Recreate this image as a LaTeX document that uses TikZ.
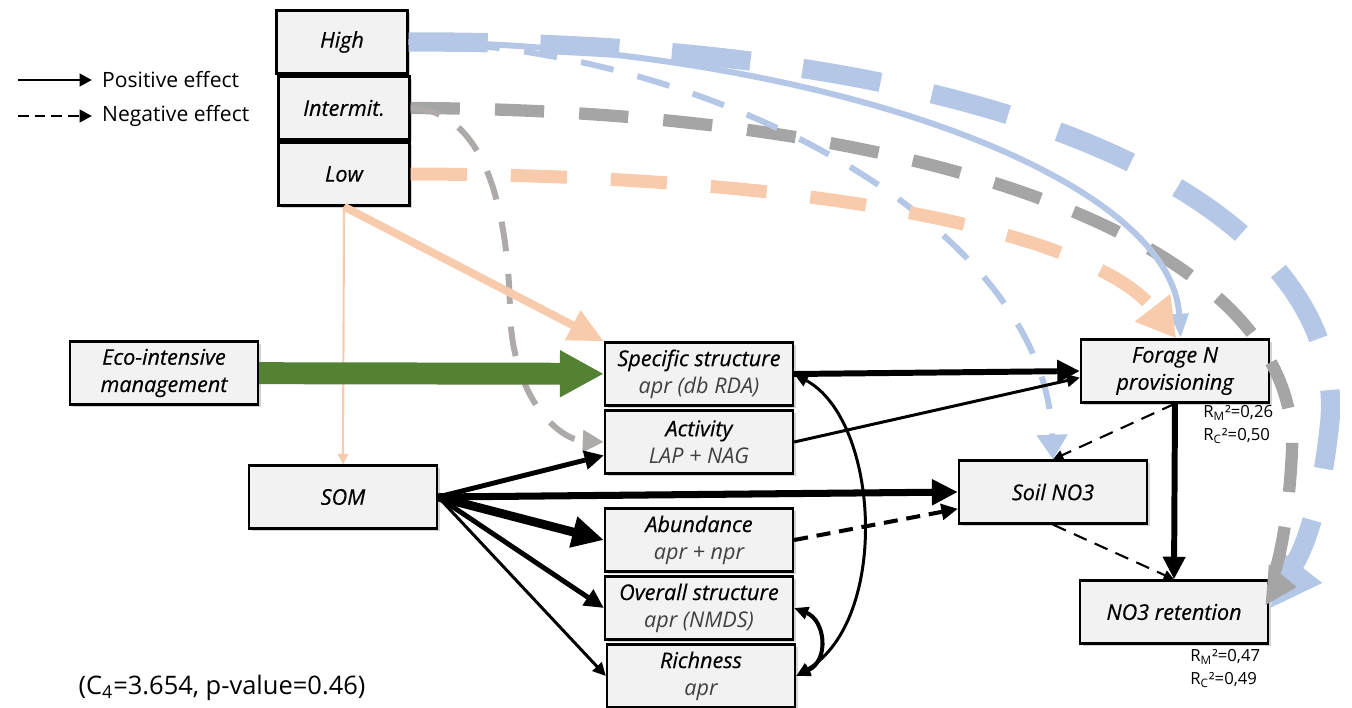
\documentclass[tikz,border=0pt]{standalone}
\usepackage{fontspec}
\setmainfont{Open Sans}
\newfontfamily\semifont{Open Sans}[FakeBold=0.4, ItalicFeatures={FakeBold=0.4}]
\usetikzlibrary{positioning,shapes,arrows.meta,shadows}

\definecolor{boxfill}{HTML}{F2F2F2}
\definecolor{subtxt}{HTML}{404040}
\definecolor{ecogreen}{HTML}{548235}
\definecolor{lowor}{HTML}{F8CBAD}
\definecolor{highbl}{HTML}{B4C7E7}
\definecolor{intgr}{HTML}{A5A5A5}
\definecolor{intgrb}{HTML}{AEAAAA}

\tikzset{
  box/.style={draw, line width=1.3pt, fill=boxfill, minimum width=3.76cm, minimum height=1.26cm, align=center, inner sep=2pt,
    font=\fontsize{12.3}{15.5}\selectfont\semifont\itshape, drop shadow={shadow xshift=1.5pt, shadow yshift=-1.5pt, opacity=0.35}},
  lvlbox/.style={box, minimum width=2.62cm},
  posarr/.style={line width=#1, -{Triangle[length=2pt 3.2, width=2pt 3]}},
  negarr/.style={posarr=#1, dash pattern=on 8pt off 5pt},
  stat/.style={font=\fontsize{9.5}{13}\selectfont, align=left, anchor=north west, inner sep=0pt}
}

\newcommand{\subl}[1]{{\normalfont\fontsize{12.3}{15.5}\selectfont\itshape\color{subtxt}#1}}

\begin{document}
\begin{tikzpicture}[x=0.02cm, y=-0.02cm]
\useasboundingbox (0,0) rectangle (1352,707);

\node[lvlbox] (high) at (342,42) {High};
\node[lvlbox] (intermit) at (344,108) {Intermit.};
\node[lvlbox] (low) at (344,174) {Low};
\node[box] (eco) at (164,373) {Eco-intensive\\management};
\node[box] (som) at (343,497) {SOM};
\node[box] (spec) at (699,374) {Specific structure\\\subl{apr (db RDA)}};
\node[box] (activ) at (699,442) {Activity\\\subl{LAP + NAG}};
\node[box] (abund) at (699,540) {Abundance\\\subl{apr + npr}};
\node[box] (overall) at (699,608) {Overall structure\\\subl{apr (NMDS)}};
\node[box] (rich) at (701,676) {Richness\\\subl{apr}};
\node[box] (forage) at (1175,371) {Forage N\\provisioning};
\node[box] (soilno) at (1053,492) {Soil NO3};
\node[box] (ret) at (1174,612) {NO3 retention};

\node[stat] (r2fo) at (1203,405) {R\textsubscript{M}²=0,26\\R\textsubscript{C}²=0,50};
\node[stat] (r2re) at (1190,649) {R\textsubscript{M}²=0,47\\R\textsubscript{C}²=0,49};
\node[font=\fontsize{14.5}{17}\selectfont] (fit) at (222,688) {(C\textsubscript{4}=3.654, p-value=0.46)};

\coordinate (lgp0) at (18,80);
\coordinate (lgp1) at (92,80);
\coordinate (lgn0) at (18,116);
\coordinate (lgn1) at (92,116);
\node[anchor=west, font=\fontsize{12}{14}\selectfont] (lgpos) at (96,80) {Positive effect};
\node[anchor=west, font=\fontsize{12}{14}\selectfont] (lgneg) at (96,116) {Negative effect};
\draw[line width=1.7pt, -{Triangle[length=7pt, width=7pt]}] (lgp0) -- (lgp1);
\draw[line width=1.7pt, dash pattern=on 6pt off 3.5pt, -{Triangle[length=7pt, width=7pt]}] (lgn0) -- (lgn1);

\coordinate (retg) at (1297,587);
\coordinate (retb) at (1323,583);

\draw[highbl, line width=11pt, dash pattern=on 45pt off 30pt, -{Triangle[length=28pt, width=32pt]}] (high.east) .. controls (1050,40) and (1345,220) .. (1330,420) .. controls (1320,520) and (1295,580) .. (retb);
\draw[intgr, line width=7pt, dash pattern=on 28pt off 20pt, -{Triangle[length=17pt, width=22pt]}] (intermit.east) .. controls (950,110) and (1300,250) .. (1292,450) .. controls (1288,540) and (1272,585) .. (retg);
\draw[highbl, line width=3.4pt, -{Triangle[length=14pt, width=10pt]}] (high.east) .. controls (800,45) and (1170,170) .. (forage.80);
\draw[highbl, line width=3.4pt, dash pattern=on 19pt off 14pt, -{Triangle[length=14pt, width=17pt]}] (high.east) .. controls (700,45) and (1045,220) .. (soilno.north);
\draw[lowor, line width=7.4pt, dash pattern=on 32pt off 25pt, -{Triangle[length=22pt, width=24pt]}] (low.east) .. controls (850,175) and (1100,240) .. (forage.88);
\draw[intgrb, line width=3.4pt, dash pattern=on 17pt off 13pt, -{Triangle[length=12pt, width=12pt]}] (intermit.east) .. controls (485,110) and (508,210) .. (510,310) .. controls (512,400) and (560,440) .. (activ.west);
\draw[lowor, line width=4.5pt, -{Triangle[length=20pt, width=18pt]}] (low.south) -- (spec.north west);
\draw[lowor, line width=1.2pt, -{Triangle[length=6pt, width=6pt]}] (low.south) -- (som.north);
\draw[ecogreen, line width=12.5pt, -{Triangle[length=25pt, width=25pt]}] (eco) -- (spec);

\draw[posarr=3.4pt] (spec.east) -- (forage.west);
\draw[posarr=1.7pt] (activ.east) -- (forage.184);
\draw[posarr=2.8pt] (som.east) -- (activ.188);
\draw[posarr=4pt] (som.east) -- (soilno.west);
\draw[posarr=5pt] (som.east) -- (abund.west);
\draw[posarr=2.8pt] (som.east) -- (overall.west);
\draw[posarr=1.7pt] (som.east) -- (rich.west);
\draw[negarr=2.3pt] (abund.east) -- (soilno.190);
\draw[negarr=1.2pt] (forage.south) -- (soilno.north);
\draw[posarr=3.4pt] (forage.south) -- (ret.north);
\draw[negarr=1.2pt] (soilno.south) -- (ret.north);
\draw[line width=1.7pt, {Triangle[length=8pt, width=7pt]}-{Triangle[length=8pt, width=7pt]}] (spec.east) .. controls (880,420) and (890,620) .. (rich.east);
\draw[line width=2.3pt, {Triangle[length=8pt, width=7pt]}-{Triangle[length=8pt, width=7pt]}] (overall.east) .. controls (825,620) and (830,660) .. (rich.east);
\end{tikzpicture}
\end{document}
